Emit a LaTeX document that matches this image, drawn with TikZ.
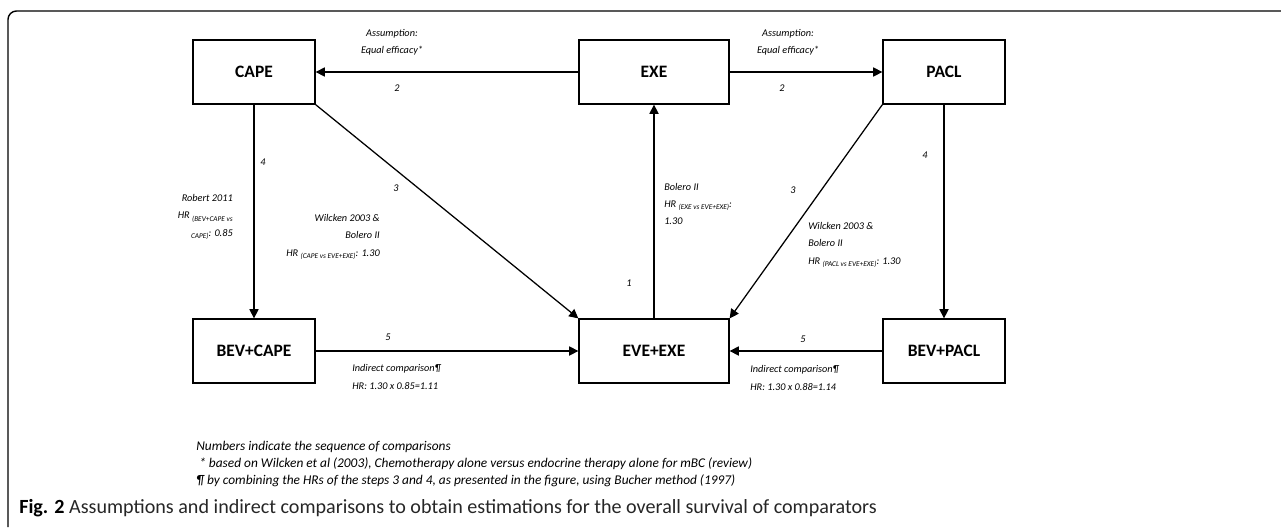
\documentclass[tikz,border=0pt]{standalone}
\usepackage{fontspec}
\setmainfont{Carlito}
\usetikzlibrary{arrows.meta,positioning}

\newcommand{\HRsub}[1]{\raisebox{-1.6pt}{\fontsize{5.2}{6}\selectfont #1}}

\begin{document}
\begin{tikzpicture}
    [
        x=0.025cm, y=-0.025cm,
        Drug/.style={rectangle,minimum width=3.05cm,minimum height=1.6cm,draw,line width=0.9pt,font=\fontsize{12.4}{14}\selectfont\bfseries},
        WideDrug/.style={Drug,minimum width=3.75cm},
        Link/.style={-{Triangle[length=6.5pt,width=6.5pt]},line width=0.9pt},
        Label/.style={inner sep=0pt,font=\fontsize{7.3}{12.4}\selectfont\itshape},
        Footer/.style={inner sep=0pt,anchor=west,align=left,font=\fontsize{9.5}{11.8}\selectfont\itshape}
    ]
    \useasboundingbox (0,0) rectangle (1281,527);
    \draw[line width=1pt,rounded corners=6pt] (8,527) -- (8,11) -- (1281,11);

    % treatments
    \node[Drug] (CAPE) at (254,72) {CAPE};
    \node[WideDrug] (EXE) at (654,72) {EXE};
    \node[Drug] (PACL) at (944,72) {PACL};
    \node[Drug] (BEVCAPE) at (254,351) {BEV+CAPE};
    \node[WideDrug] (EVEEXE) at (654,351) {EVE+EXE};
    \node[Drug] (BEVPACL) at (944,351) {BEV+PACL};

    % comparisons
    \draw[Link] (EVEEXE.north) -- (EXE.south);
    \draw[Link] (EXE.west) -- (CAPE.east);
    \draw[Link] (EXE.east) -- (PACL.west);
    \draw[Link] (CAPE.south east) -- (EVEEXE.north west);
    \draw[Link] (PACL.south west) -- (EVEEXE.north east);
    \draw[Link] (CAPE.south) -- (BEVCAPE.north);
    \draw[Link] (PACL.south) -- (BEVPACL.north);
    \draw[Link] (BEVCAPE.east) -- (EVEEXE.west);
    \draw[Link] (BEVPACL.west) -- (EVEEXE.east);

    % step numbers
    \node[Label] (StepA) at (629,283) {1};
    \node[Label] (StepBl) at (397,88) {2};
    \node[Label] (StepBr) at (782,88) {2};
    \node[Label] (StepCl) at (396,188) {3};
    \node[Label] (StepCr) at (793,190) {3};
    \node[Label] (StepDl) at (263,162) {4};
    \node[Label] (StepDr) at (925,155) {4};
    \node[Label] (StepEl) at (388,337) {5};
    \node[Label] (StepEr) at (803,339) {5};

    % sources
    \node[Label,align=center] (AssumeL) at (392,42) {Assumption:\\Equal efficacy*};
    \node[Label,align=center] (AssumeR) at (788,42) {Assumption:\\Equal efficacy*};
    \node[Label,align=right,anchor=east] (Robert) at (233,217)
        {Robert 2011\\HR \HRsub{(BEV+CAPE vs}\\\HRsub{CAPE)}: 0.85};
    \node[Label,align=right,anchor=east] (WilckenL) at (380,237)
        {Wilcken 2003 \&\\Bolero II\\HR \HRsub{(CAPE vs EVE+EXE)}: 1.30};
    \node[Label,align=left,anchor=west] (Bolero) at (664,204)
        {Bolero II\\HR \HRsub{(EXE vs EVE+EXE)}:\\1.30};
    \node[Label,align=left,anchor=west] (WilckenR) at (808,245)
        {Wilcken 2003 \&\\Bolero II\\HR \HRsub{(PACL vs EVE+EXE)}: 1.30};
    \node[Label,align=left,anchor=west] (IndirectL) at (352,377)
        {Indirect comparison¶\\HR: 1.30 x 0.85=1.11};
    \node[Label,align=left,anchor=west] (IndirectR) at (750,378)
        {Indirect comparison¶\\HR: 1.30 x 0.88=1.14};

    % footnotes and caption
    \node[Footer] (Notes) at (196,464)
        {Numbers indicate the sequence of comparisons\\
        \ * based on Wilcken et al (2003), Chemotherapy alone versus endocrine therapy alone for mBC (review)\\
        ¶ by combining the HRs of the steps 3 and 4, as presented in the figure, using Bucher method (1997)};
    \node[inner sep=0pt,anchor=west,font=\fontsize{14.3}{16}\selectfont] (Caption) at (19,508)
        {\textbf{Fig. 2} {\color{black!85}Assumptions and indirect comparisons to obtain estimations for the overall survival of comparators}};
\end{tikzpicture}
\end{document}
